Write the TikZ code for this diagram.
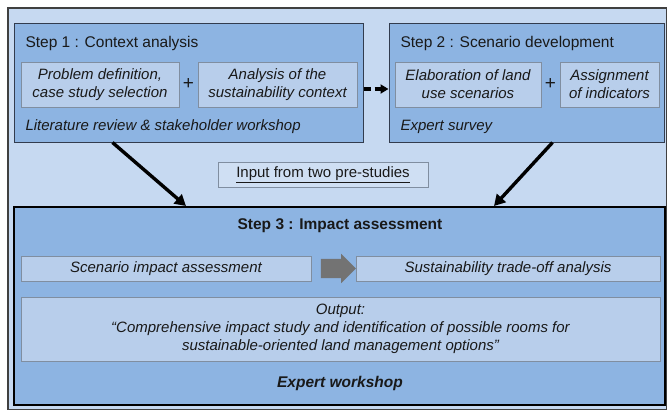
\documentclass[tikz,border=0pt]{standalone}
\usepackage{fontspec}
\setmainfont{Liberation Sans}
\usetikzlibrary{arrows.meta,shapes.arrows,calc}

\definecolor{framebg}{RGB}{198,217,241}
\definecolor{stepbg}{RGB}{141,180,226}
\definecolor{taskbg}{RGB}{184,206,235}
\definecolor{taskline}{RGB}{128,142,160}
\definecolor{stepline}{RGB}{50,60,78}

\begin{document}
\begin{tikzpicture}[x=1pt,y=-1pt,
    every node/.style={font=\fontsize{15}{18}\selectfont,text=black!90},
    stepbox/.style={draw=stepline,line width=1pt,fill=stepbg,inner sep=0pt},
    taskbox/.style={draw=taskline,line width=1pt,fill=taskbg,inner sep=0pt,
      align=center,font=\fontsize{15}{18}\selectfont\itshape},
    flow/.style={line width=3.4pt,-{Triangle[length=11pt,width=12pt]}}]
    % Row y-coordinates
    \def\ytop{82.5}
    \def\yin{84.5}
    \def\ytask{268.5}

    \useasboundingbox (0,0) rectangle (667,410);

    % Outer frame
    \draw[fill=framebg,draw=black!75,line width=1.5pt] (8,8) rectangle (666.5,409.5);

    % Step 1 and Step 2
    \node[stepbox,minimum width=349pt,minimum height=119pt] (s1) at (188.5,\ytop) {};
    \node[stepbox,minimum width=275pt,minimum height=119pt] (s2) at (526.5,\ytop) {};
    \node[anchor=west,font=\fontsize{15.5}{18}\selectfont] (t1) at (22,43) {Step 1 : Context analysis};
    \node[anchor=west,font=\fontsize{15.5}{18}\selectfont] (t2) at (397,43) {Step 2 : Scenario development};

    \node[taskbox,minimum width=158pt,minimum height=45pt] (a1) at (100,\yin)
      {Problem definition,\\case study selection};
    \node[taskbox,minimum width=159pt,minimum height=45pt] (a2) at (277.5,\yin)
      {Analysis of the\\sustainability context};
    \node[taskbox,minimum width=146pt,minimum height=45pt] (b1) at (468,\yin)
      {Elaboration of land\\use scenarios};
    \node[taskbox,minimum width=99pt,minimum height=45pt] (b2) at (609.5,\yin)
      {Assignment\\of indicators};

    % Plus signs between the tasks
    \foreach \l/\r in {a1/a2,b1/b2} {
      \node[font=\fontsize{19}{20}\selectfont] (p\l) at ($(\l.east)!0.5!(\r.west)$) {+};
    }

    \node[anchor=west,font=\fontsize{15}{18}\selectfont\itshape] (w1) at (22,127)
      {Literature review \& stakeholder workshop};
    \node[anchor=west,font=\fontsize{15}{18}\selectfont\itshape] (w2) at (397,127) {Expert survey};

    % Link between step 1 and step 2
    \draw[line width=3.6pt,dash pattern=on 7pt off 4pt,-{Triangle[length=8pt,width=9pt]}]
      ([yshift=-6.5pt]s1.east) -- ([yshift=-6.5pt]s2.west);

    % Input box
    \node[draw=taskline,line width=1pt,fill=framebg!85!white,minimum width=210pt,
      minimum height=25pt,inner sep=0pt] (inp) at (323,174.5) {\underline{Input from two pre-studies}};

    % Step 3
    \node[stepbox,draw=black,line width=2pt,minimum width=651pt,minimum height=198pt] (s3) at (339.5,306) {};
    \node[font=\fontsize{15.5}{18}\selectfont\bfseries] (t3) at (340,226) {Step 3 : Impact assessment};

    \node[taskbox,minimum width=290pt,minimum height=25pt] (c1) at (166,\ytask)
      {Scenario impact assessment};
    \node[taskbox,minimum width=304pt,minimum height=25pt] (c2) at (508,\ytask)
      {Sustainability trade-off analysis};
    \node[single arrow,fill=black!55,inner sep=9.5pt,minimum height=35pt,
      single arrow head extend=5pt] (g) at (333.5,\ytask) {};

    \node[taskbox,minimum width=639pt,minimum height=64pt] (out) at (340.5,329)
      {Output:\\``Comprehensive impact study and identification of possible rooms for\\
       sustainable-oriented land management options''};

    \node[font=\fontsize{15.5}{18}\selectfont\bfseries\itshape] (w3) at (340,383) {Expert workshop};

    % Inputs into step 3
    \draw[flow] ([xshift=99pt]s1.south west) -- ([xshift=173pt]s3.north west);
    \draw[flow] ([xshift=164pt]s2.south west) -- ([xshift=481pt]s3.north west);

  \end{tikzpicture}
\end{document}
